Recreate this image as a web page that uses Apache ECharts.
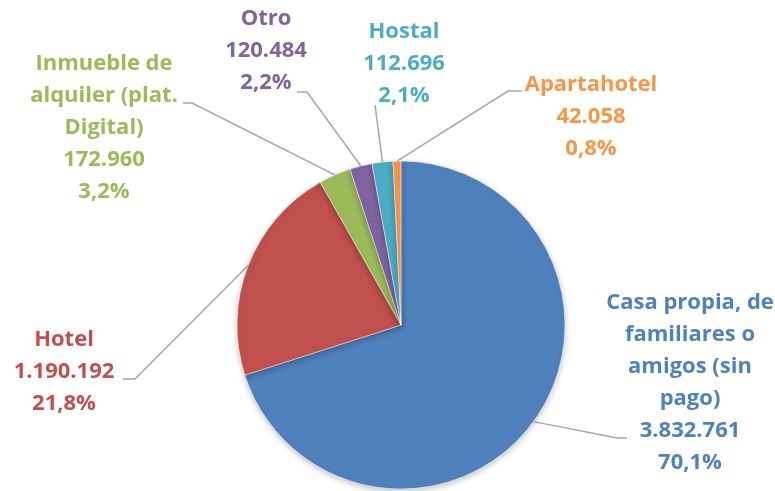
<!DOCTYPE html>
<html>
<head>
<meta charset="utf-8">
<script src="https://cdn.jsdelivr.net/npm/echarts@6/dist/echarts.min.js"></script>
<style>
  html, body { margin: 0; padding: 0; background: #fff; }
  #main { width: 775px; height: 491px; }
</style>
</head>
<body>
<div id="main"></div>
<script>
  // datos
  var categories = [
    'Casa propia, de\nfamiliares o\namigos (sin\npago)',
    'Hotel',
    'Inmueble de\nalquiler (plat.\nDigital)',
    'Otro',
    'Hostal',
    'Apartahotel'
  ];
  var values = [3832761, 1190192, 172960, 120484, 112696, 42058];
  var colors = ['#4F81BD', '#C0504D', '#9BBB59', '#8064A2', '#4BACC6', '#F79646'];

  // posicion de etiquetas (centro del texto) y punto final de la linea guia
  var labelPos = [[690, 383], [64, 372], [104, 128], [266, 51], [404, 64], [591, 117]];
  var lineEnd = [[627, 438], [123, 379], [183, 103], [297, 92], [375, 105], [522, 91]];
  var lineElbow = [[617, 438], [135, 379], [192, 103], [307, 92], [375, 105], [508, 91]];

  var total = values.reduce(function (a, b) { return a + b; }, 0);

  function fmtNum(v) {
    return String(v).replace(/\B(?=(\d{3})+(?!\d))/g, '.');
  }

  var chart = echarts.init(document.getElementById('main'));
  chart.setOption({
    animation: false,
    series: [{
      type: 'pie',
      center: [401, 325],
      radius: 164,
      startAngle: 90,
      clockwise: true,
      avoidLabelOverlap: false,
      itemStyle: {
        borderColor: '#fff',
        borderWidth: 0.5,
        shadowBlur: 6,
        shadowColor: 'rgba(0,0,0,0.25)',
        shadowOffsetY: 2
      },
      label: {
        show: true,
        position: 'outside',
        fontFamily: 'Open Sans',
        fontWeight: 'bold',
        fontSize: 22,
        lineHeight: 32,
        align: 'center',
        formatter: function (p) {
          var pct = (p.value / total * 100).toFixed(1).replace('.', ',');
          return p.name + '\n' + fmtNum(p.value) + '\n' + pct + '%';
        }
      },
      labelLine: {
        show: true,
        lineStyle: { color: '#A6A6A6', width: 1.5 }
      },
      labelLayout: function (params) {
        var i = params.dataIndex;
        var pts = params.labelLinePoints;
        return {
          x: labelPos[i][0],
          y: labelPos[i][1],
          align: 'center',
          verticalAlign: 'middle',
          labelLinePoints: [pts[0], lineElbow[i], lineEnd[i]]
        };
      },
      data: categories.map(function (c, i) {
        return {
          name: c,
          value: values[i],
          itemStyle: { color: colors[i] },
          label: { color: colors[i] }
        };
      })
    }]
  });
</script>
</body>
</html>
